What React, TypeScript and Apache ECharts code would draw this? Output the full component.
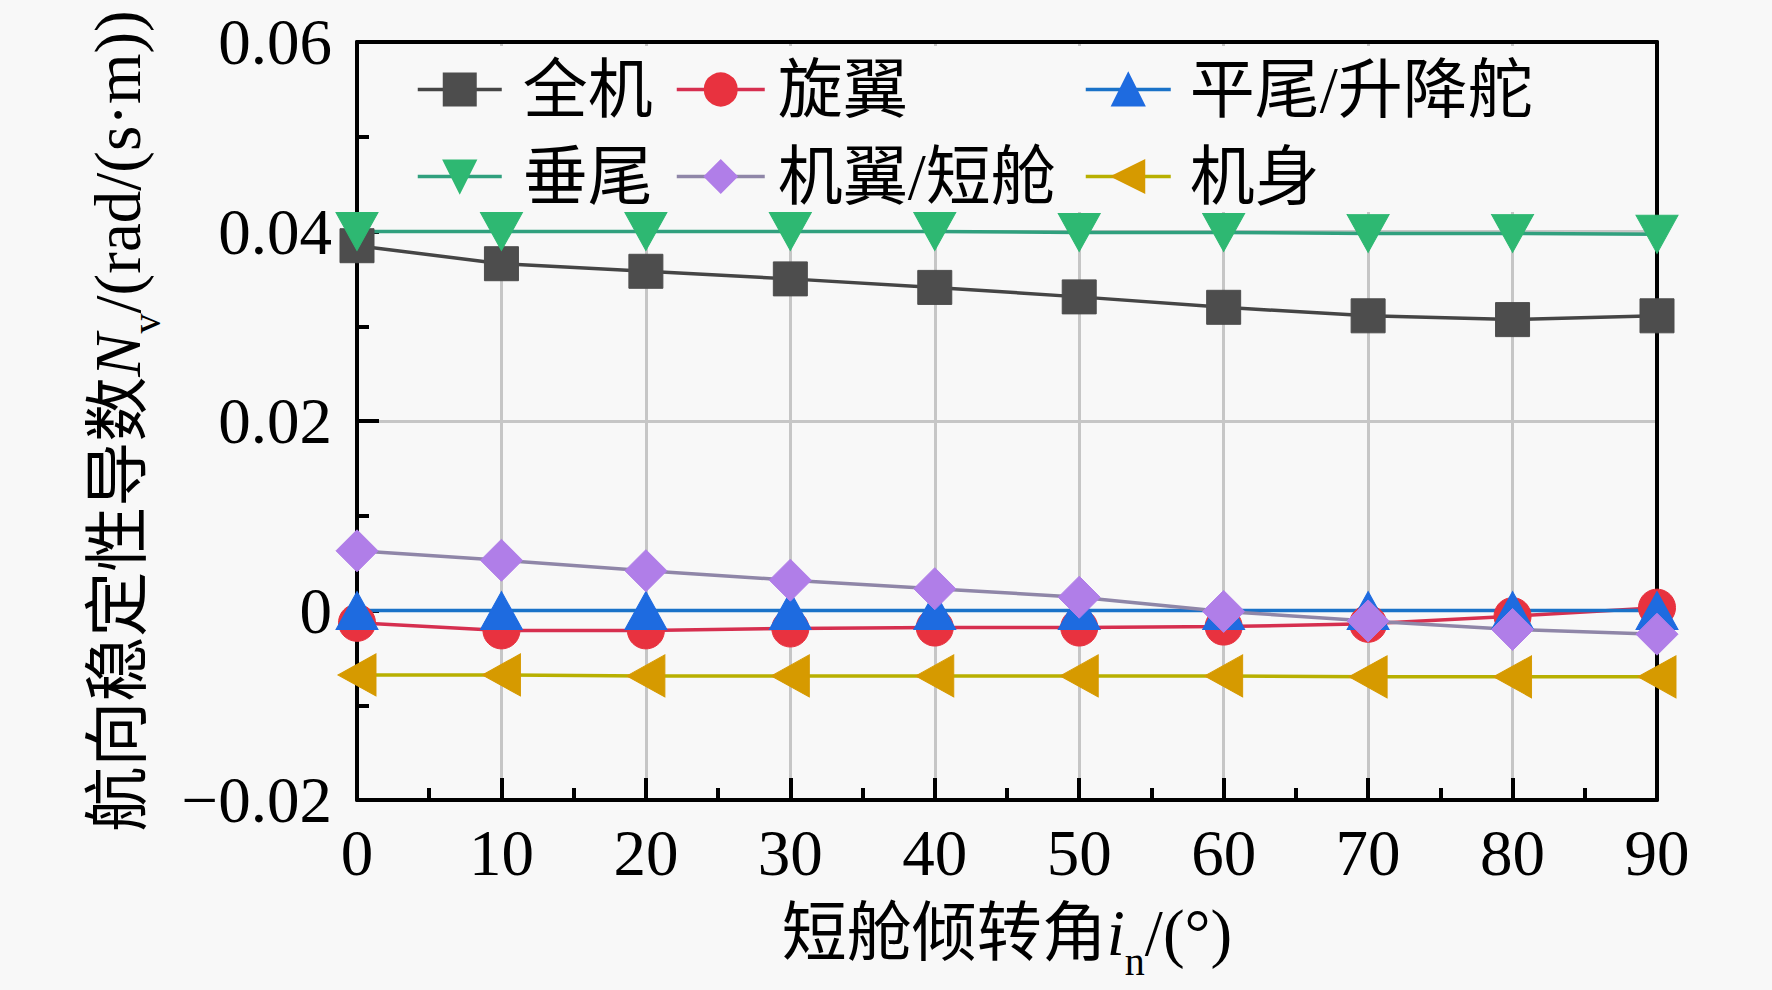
import React, { useEffect, useRef } from "react";
import * as echarts from "echarts";

const angles = [0, 10, 20, 30, 40, 50, 60, 70, 80, 90];
const quanji = [0.0385, 0.0366, 0.0358, 0.035, 0.0341, 0.0331, 0.032, 0.0311, 0.0307, 0.0311];
const xuanyi = [-0.0013, -0.0021, -0.0021, -0.0019, -0.0018, -0.0018, -0.0017, -0.0014, -0.0006, 0.0003];
const pingwei = [0.0, 0.0, 0.0, 0.0, 0.0, 0.0, 0.0, 0.0, 0.0, 0.0];
const chuiwei = [0.04, 0.04, 0.04, 0.04, 0.04, 0.0399, 0.0399, 0.0398, 0.0398, 0.0397];
const jiyi = [0.0063, 0.0053, 0.0042, 0.0032, 0.0023, 0.0014, -0.0001, -0.0011, -0.002, -0.0025];
const jishen = [-0.0068, -0.0068, -0.0069, -0.0069, -0.0069, -0.0069, -0.0069, -0.007, -0.007, -0.007];

const seriesNames = ["全机", "旋翼", "平尾/升降舵", "垂尾", "机翼/短舱", "机身"];

const FONT = "'Liberation Serif', 'Times New Roman', 'Noto Sans CJK SC', serif";
const BG = "#f8f8f8";
const FS = 65;

const pairs = (ys: number[]) => angles.map((x, i) => [x, ys[i]]);

export default function App() {
  const ref = useRef<HTMLDivElement>(null);
  useEffect(() => {
    document.body.style.margin = "0";
    const chart = echarts.init(ref.current!, null, { renderer: "svg" });

    const mk = (
      name: string,
      ys: number[],
      symbol: string,
      size: number | number[],
      lineColor: string,
      markColor: string,
      rotate = 0
    ) => ({
      name,
      type: "line",
      xAxisIndex: 0,
      yAxisIndex: 0,
      z: 3,
      data: pairs(ys),
      symbol,
      symbolSize: size,
      symbolRotate: rotate,
      showAllSymbol: true,
      lineStyle: { color: lineColor, width: 3.5 },
      itemStyle: { color: markColor, borderColor: markColor, borderWidth: 1, opacity: 1 },
      emphasis: { disabled: true },
    });

    const legendText = (pad: number) => ({
      fontSize: FS,
      fontFamily: FONT,
      color: "#000",
      lineHeight: FS,
      padding: [0, 0, 0, pad],
    });

    const mkLegend = (data: string[], left: number, pad: number, w: number) => ({
      data,
      orient: "vertical",
      left,
      top: 57,
      itemWidth: w,
      itemHeight: 40,
      itemGap: 22,
      padding: 0,
      textStyle: legendText(pad),
      lineStyle: { width: 3.5 },
      selectedMode: false,
    });

    const rich = {
      it: { fontSize: FS, fontFamily: FONT, fontStyle: "italic", color: "#000", lineHeight: FS },
      sub: { fontSize: 40, fontFamily: FONT, color: "#000", lineHeight: 40, verticalAlign: "bottom", padding: [0, 0, -16, 0] },
    };

    const frameAxis = { show: true, onZero: false, lineStyle: { color: "#000", width: 4 } };
    const split = { show: true, showMinLine: false, showMaxLine: false, lineStyle: { color: "#c6c6c6", width: 3 } };

    const option = {
      animation: false,
      backgroundColor: BG,
      grid: {
        left: 357,
        right: 115,
        top: 42,
        bottom: 190,
        show: false,
      },
      legend: [
        mkLegend([seriesNames[0], seriesNames[3]], 416, 16, 84),
        mkLegend([seriesNames[1], seriesNames[4]], 675, 8, 88),
        mkLegend([seriesNames[2], seriesNames[5]], 1084, 14, 85),
      ],
      graphic: [
        {
          type: "rect",
          z: 1,
          shape: { x: 395, y: 46, width: 1200, height: 166 },
          style: { fill: BG },
          silent: true,
        },
      ],
      xAxis: [
        {
          type: "value",
          position: "bottom",
          min: 0,
          max: 90,
          interval: 10,
          name: "短舱倾转角{it|i}{sub|n}/(°)",
          nameLocation: "middle",
          nameGap: 100,
          nameTextStyle: { fontSize: FS, fontFamily: FONT, color: "#000", lineHeight: FS, rich },
          axisLine: frameAxis,
          axisTick: { show: true, inside: true, length: 22, lineStyle: { color: "#000", width: 4 } },
          minorTick: { show: true, splitNumber: 2, length: 12, lineStyle: { color: "#000", width: 4 } },
          splitLine: split,
          axisLabel: { fontSize: FS, fontFamily: FONT, color: "#000", margin: 20 },
        },
        {
          type: "value",
          position: "top",
          z: 2,
          min: 0,
          max: 90,
          interval: 10,
          axisLine: frameAxis,
          axisTick: { show: false },
          axisLabel: { show: false },
          splitLine: { show: false },
        },
      ],
      yAxis: [
        {
          type: "value",
          position: "left",
          min: -0.02,
          max: 0.06,
          interval: 0.02,
          name: "航向稳定性导数{it|N}{sub|v}/(rad/(s·m))",
          nameLocation: "middle",
          nameRotate: 90,
          nameGap: 207,
          nameTextStyle: { fontSize: FS, fontFamily: FONT, color: "#000", lineHeight: FS, rich },
          axisLine: frameAxis,
          axisTick: { show: true, inside: true, length: 22, lineStyle: { color: "#000", width: 4 } },
          minorTick: { show: true, splitNumber: 2, length: 12, lineStyle: { color: "#000", width: 4 } },
          splitLine: split,
          axisLabel: {
            fontSize: FS,
            fontFamily: FONT,
            color: "#000",
            margin: 25,
            formatter: (v: number) => {
              const r = Math.round(v * 100) / 100;
              if (r === 0) return "0";
              return r < 0 ? "\u2212" + Math.abs(r).toFixed(2) : r.toFixed(2);
            },
          },
        },
        {
          type: "value",
          position: "right",
          z: 2,
          min: -0.02,
          max: 0.06,
          interval: 0.02,
          axisLine: frameAxis,
          axisTick: { show: false },
          axisLabel: { show: false },
          splitLine: { show: false },
        },
      ],
      series: [
        mk(seriesNames[0], quanji, "rect", 34, "#454545", "#4d4d4d"),
        mk(seriesNames[1], xuanyi, "circle", 37, "#d62f4f", "#e8323f"),
        mk(seriesNames[2], pingwei, "triangle", [42, 38], "#1a72c8", "#1e6be0"),
        mk(seriesNames[3], chuiwei, "triangle", [42, 38], "#30a07e", "#2eb872", 180),
        mk(seriesNames[4], jiyi, "diamond", [42, 42], "#8f86a8", "#b07ee8"),
        mk(seriesNames[5], jishen, "triangle", [42, 38], "#b8b000", "#d69a00", 90),
      ],
    };
    chart.setOption(option as any);
    return () => chart.dispose();
  }, []);
  return <div ref={ref} style={{ position: "absolute", left: 0, top: 0, width: 1772, height: 990 }} />;
}
